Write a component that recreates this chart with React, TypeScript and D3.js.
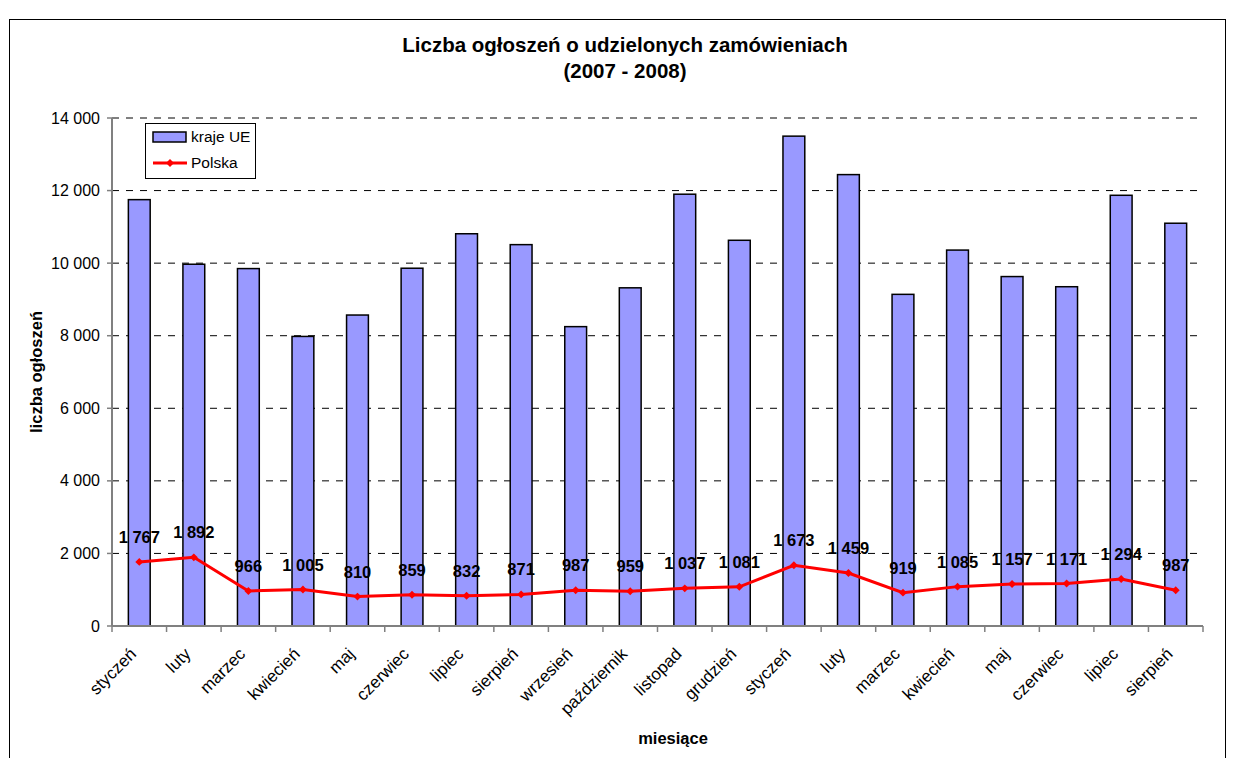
import * as d3 from "d3"

const months = [
  "styczeń", "luty", "marzec", "kwiecień", "maj", "czerwiec", "lipiec", "sierpień",
  "wrzesień", "październik", "listopad", "grudzień",
  "styczeń", "luty", "marzec", "kwiecień", "maj", "czerwiec", "lipiec", "sierpień",
]
const krajeUE = [
  11750, 9970, 9850, 7980, 8570, 9860, 10810, 10510, 8250, 9320, 11900, 10630,
  13500, 12440, 9140, 10360, 9630, 9350, 11870, 11100,
]
const polska = [
  1767, 1892, 966, 1005, 810, 859, 832, 871, 987, 959, 1037, 1081,
  1673, 1459, 919, 1085, 1157, 1171, 1294, 987,
]
const yTicks = [0, 2000, 4000, 6000, 8000, 10000, 12000, 14000]

const font = "'Liberation Sans', Arial, sans-serif"
const plot = {left: 112, right: 1203, top: 118, bottom: 626}

const pl = d3.formatLocale({decimal: ",", thousands: " ", grouping: [3], currency: ["", ""]})
const fmt = pl.format(",d")

const App = () => {
  const x = d3
    .scaleBand<number>()
    .domain(months.map((_, i) => i))
    .range([plot.left, plot.right])
    .padding(0)
  const y = d3.scaleLinear().domain([0, 14000]).range([plot.bottom, plot.top])
  const barW = x.bandwidth() * 0.4
  const cx = (i: number) => (x(i) as number) + x.bandwidth() / 2

  const line = d3
    .line<number>()
    .x((_, i) => cx(i))
    .y((d) => y(d))

  const diamond = d3.symbol().type(d3.symbolDiamond2).size(40)

  return (
    <svg
      width={1234}
      height={758}
      style={{position: "absolute", left: 0, top: 0, background: "#fff"}}
      fontFamily={font}
    >
      <rect x={9.5} y={19.5} width={1216} height={800} fill="#fff" stroke="#000" strokeWidth={1} />

      <text x={625} y={52} textAnchor="middle" fontSize={20.5} fontWeight="bold">
        Liczba ogłoszeń o udzielonych zamówieniach
      </text>
      <text x={625} y={78} textAnchor="middle" fontSize={20.5} fontWeight="bold">
        (2007 - 2008)
      </text>

      {yTicks
        .filter((t) => t > 0)
        .map((t) => (
          <line
            key={"g" + t}
            x1={plot.left}
            x2={plot.right}
            y1={y(t)}
            y2={y(t)}
            stroke="#000"
            strokeWidth={1}
            strokeDasharray="7,7"
          />
        ))}

      {krajeUE.map((v, i) => (
        <rect
          key={"b" + i}
          x={cx(i) - barW / 2}
          y={y(v)}
          width={barW}
          height={y(0) - y(v)}
          fill="#9999ff"
          stroke="#000"
          strokeWidth={1.5}
        />
      ))}

      <line x1={plot.left} x2={plot.left} y1={plot.top} y2={plot.bottom} stroke="#808080" strokeWidth={2} />
      <line x1={plot.left} x2={plot.right} y1={plot.bottom} y2={plot.bottom} stroke="#808080" strokeWidth={2} />
      {yTicks.map((t) => (
        <g key={"y" + t}>
          <line x1={plot.left - 5} x2={plot.left} y1={y(t)} y2={y(t)} stroke="#808080" strokeWidth={1.5} />
          <text x={100} y={y(t)} dy="0.35em" textAnchor="end" fontSize={16}>
            {fmt(t)}
          </text>
        </g>
      ))}
      {d3.range(months.length + 1).map((i) => {
        const xx = plot.left + i * x.step()
        return <line key={"xt" + i} x1={xx} x2={xx} y1={plot.bottom} y2={plot.bottom + 6} stroke="#808080" strokeWidth={1.5} />
      })}

      {months.map((m, i) => (
        <text
          key={"m" + i}
          transform={`translate(${cx(i) - 2},${655}) rotate(-45)`}
          textAnchor="end"
          fontSize={17}
        >
          {m}
        </text>
      ))}

      <path d={line(polska) || ""} fill="none" stroke="#ff0000" strokeWidth={3} />
      {polska.map((v, i) => (
        <path key={"d" + i} d={diamond() || ""} transform={`translate(${cx(i)},${y(v)})`} fill="#ff0000" />
      ))}
      {polska.map((v, i) => (
        <text
          key={"l" + i}
          x={cx(i)}
          y={y(v) - 19}
          textAnchor="middle"
          fontSize={16.5}
          fontWeight="bold"
        >
          {fmt(v)}
        </text>
      ))}

      <text x={673} y={744} textAnchor="middle" fontSize={16.5} fontWeight="bold">
        miesiące
      </text>
      <text
        transform={`translate(42,${(plot.top + plot.bottom) / 2}) rotate(-90)`}
        textAnchor="middle"
        fontSize={16.5}
        fontWeight="bold"
      >
        liczba ogłoszeń
      </text>

      <g>
        <rect x={145.5} y={123.5} width={110} height={55} fill="#fff" stroke="#000" strokeWidth={1} />
        <rect x={153} y={132} width={33} height={10} fill="#9999ff" stroke="#000" strokeWidth={1.5} />
        <text x={191} y={137} dy="0.35em" fontSize={15.5}>
          kraje UE
        </text>
        <line x1={153} x2={187} y1={163} y2={163} stroke="#ff0000" strokeWidth={3} />
        <path d={diamond() || ""} transform="translate(170,163)" fill="#ff0000" />
        <text x={191} y={163} dy="0.35em" fontSize={15.5}>
          Polska
        </text>
      </g>
    </svg>
  )
}

export default App
